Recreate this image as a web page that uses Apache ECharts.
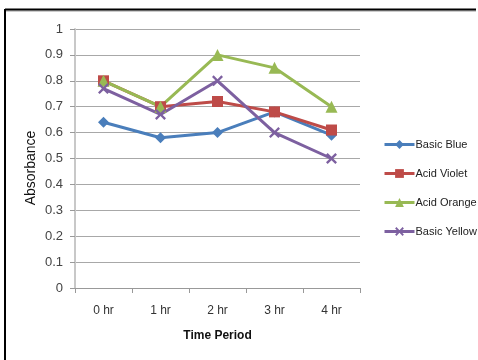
<!DOCTYPE html>
<html><head><meta charset="utf-8">
<script src="https://cdn.jsdelivr.net/npm/echarts@6/dist/echarts.min.js"></script>
<style>html,body{margin:0;padding:0;background:#fff}#c{width:478px;height:360px}</style>
</head><body><div id="c"></div>
<script>
const categories = ['0 hr','1 hr','2 hr','3 hr','4 hr'];
const basicBlue = [0.64, 0.58, 0.60, 0.68, 0.59];
const acidViolet = [0.80, 0.70, 0.72, 0.68, 0.61];
const acidOrange = [0.80, 0.70, 0.90, 0.85, 0.70];
const basicYellow = [0.77, 0.67, 0.80, 0.60, 0.50];
const seriesNames = ['Basic Blue','Acid Violet','Acid Orange','Basic Yellow'];

const xSym = 'path://M0,1.5L1.5,0L5,3.5L8.5,0L10,1.5L6.5,5L10,8.5L8.5,10L5,6.5L1.5,10L0,8.5L3.5,5Z';
const font = 'Liberation Sans';
function mk(name, data, color, symbol, size) {
  return {name, type:'line', data, color, symbol, symbolSize:size, showAllSymbol:true,
    lineStyle:{width:3, color}, itemStyle:{color}, animation:false};
}
const chart = echarts.init(document.getElementById('c'), null, {renderer:'canvas'});
chart.setOption({
  animation:false,
  backgroundColor:'#fff',
  grid:{left:75, right:118, top:29, bottom:72},
  legend:{
    orient:'vertical', left:378, top:134, itemGap:18, itemWidth:30, itemHeight:11,
    lineStyle:{width:3},
    textStyle:{fontFamily:font, fontSize:11, color:'#222', padding:[0,0,0,-4]},
    data:seriesNames
  },
  xAxis:{
    type:'category', data:categories, boundaryGap:true,
    name:'Time Period', nameLocation:'middle', nameGap:42,
    nameTextStyle:{fontFamily:font, fontWeight:'bold', fontSize:12, color:'#111'},
    axisLine:{lineStyle:{color:'#999', width:1}},
    axisTick:{show:true, length:5, lineStyle:{color:'#999'}},
    axisLabel:{fontFamily:font, fontSize:12, color:'#333', margin:17}
  },
  yAxis:{
    type:'value', min:0, max:1, interval:0.1,
    axisLine:{show:true, lineStyle:{color:'#c8c8c8', width:2}},
    axisTick:{show:true, length:5, lineStyle:{color:'#999'}},
    axisLabel:{fontFamily:font, fontSize:13, color:'#444', margin:12,
      formatter:v=>String(Math.round(v*10)/10)},
    splitLine:{lineStyle:{color:'#a8a8a8', width:1}}
  },
  graphic:[
    {type:'line', shape:{x1:5, y1:11, x2:476, y2:11}, style:{stroke:'#999', lineWidth:1}},
    {type:'line', shape:{x1:5, y1:9.5, x2:476, y2:9.5}, style:{stroke:'#000', lineWidth:2}},
    {type:'line', shape:{x1:5, y1:9, x2:5, y2:360}, style:{stroke:'#000', lineWidth:2}},
    {type:'text', x:31, y:168, rotation:Math.PI/2,
      style:{text:'Absorbance', fontFamily:font, fontSize:14, fill:'#111', align:'center', verticalAlign:'middle'}}
  ],
  series:[
    mk('Basic Blue', basicBlue, '#4A7EBB', 'diamond', 11),
    mk('Acid Violet', acidViolet, '#BE4B48', 'rect', 11),
    mk('Acid Orange', acidOrange, '#98B954', 'triangle', 12),
    mk('Basic Yellow', basicYellow, '#7D60A0', xSym, 11)
  ]
});
</script></body></html>
